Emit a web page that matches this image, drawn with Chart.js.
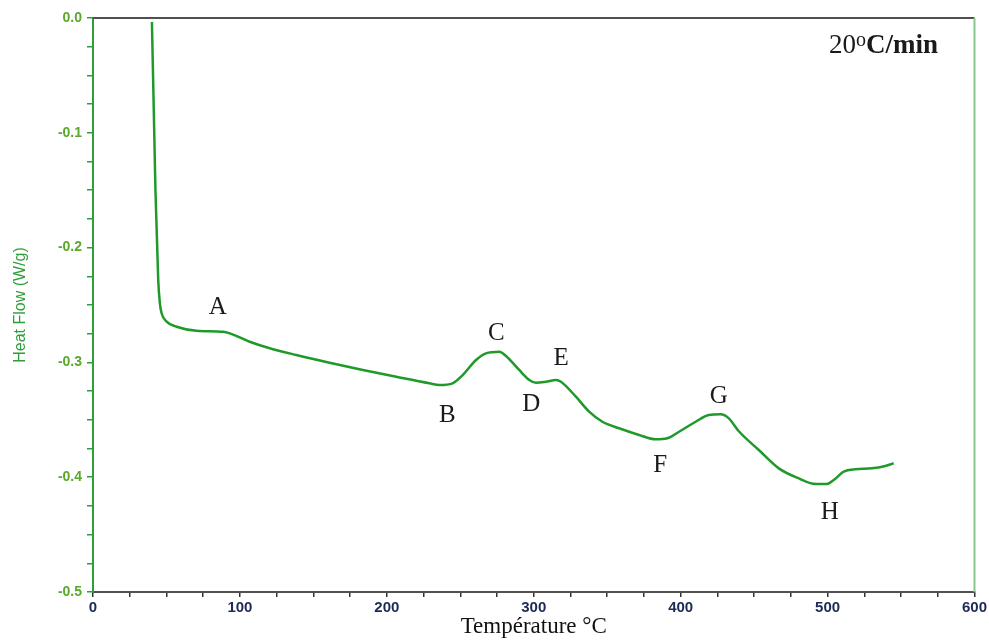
<!DOCTYPE html>
<html>
<head>
<meta charset="utf-8">
<script src="https://cdn.jsdelivr.net/npm/chart.js@4/dist/chart.umd.min.js"></script>
<style>
html,body{margin:0;padding:0;background:#fff;}
#wrap{width:989px;height:641px;}
</style>
</head>
<body>
<div id="wrap"><canvas id="c" width="989" height="641"></canvas></div>
<script>
// Temperature (°C) and heat flow (W/g)
const temperature = [40.1, 41.7, 42.5, 44.4, 45.5, 46.7, 50.1, 56.9, 70.5, 88.5, 93.1, 106.7, 120.3, 138.4, 161, 183.7, 206.4, 229, 235.8, 244.8, 251.6, 260.7, 267.5, 276.6, 281.1, 290.1, 297, 301.5, 308.3, 315.1, 318.5, 328.7, 337.7, 346.7, 358.1, 371.7, 383, 390.9, 398.9, 410.2, 419.2, 427.2, 432.8, 439.6, 453.2, 466.8, 480.4, 491.8, 499.6, 504.2, 511, 518.9, 530.2, 539.3, 545];
const heatFlow = [-0.0035, -0.1002, -0.1498, -0.2282, -0.2483, -0.2572, -0.2645, -0.2689, -0.2724, -0.2733, -0.2747, -0.282, -0.2877, -0.2936, -0.3003, -0.3066, -0.3125, -0.3182, -0.3197, -0.3182, -0.311, -0.2979, -0.2921, -0.2907, -0.2944, -0.3066, -0.3153, -0.3177, -0.3168, -0.3153, -0.3168, -0.3299, -0.3429, -0.3517, -0.3574, -0.3632, -0.367, -0.3661, -0.3604, -0.3517, -0.3458, -0.3452, -0.3487, -0.36, -0.3763, -0.3923, -0.401, -0.4059, -0.4059, -0.4024, -0.3952, -0.3931, -0.3923, -0.3902, -0.3879];
// Point labels
const pointLabels = ['A', 'B', 'C', 'D', 'E', 'F', 'G', 'H'];
const labelT = [84.9, 241.2, 274.5, 298.3, 318.7, 386, 426, 501.5];
const labelHF = [-0.2518, -0.3458, -0.2744, -0.337, -0.2962, -0.3894, -0.330, -0.4303];
// Axis settings
const xMin = 0, xMax = 600, xStep = 25;
const yMin = -0.5, yMax = 0.0, yStep = 0.025;
const rateText = ['20', 'o', 'C/min'];
const rateT = 538, rateHF = -0.0245;

const points = temperature.map((t, i) => ({x: t, y: heatFlow[i]}));

const decor = {
  id: 'decor',
  afterDraw(chart) {
    const {ctx, chartArea: a, scales: {x, y}} = chart;
    ctx.save();
    // top border
    ctx.strokeStyle = '#505050';
    ctx.lineWidth = 2;
    ctx.beginPath(); ctx.moveTo(a.left, a.top); ctx.lineTo(a.right, a.top); ctx.stroke();
    // right border
    ctx.strokeStyle = '#86c986';
    ctx.lineWidth = 2;
    ctx.beginPath(); ctx.moveTo(a.right, a.top); ctx.lineTo(a.right, a.bottom); ctx.stroke();
    // point labels
    ctx.fillStyle = '#1a1a1a';
    ctx.font = '25px "Liberation Serif", "Times New Roman", serif';
    ctx.textAlign = 'center';
    ctx.textBaseline = 'middle';
    pointLabels.forEach((l, i) => {
      ctx.fillText(l, x.getPixelForValue(labelT[i]), y.getPixelForValue(labelHF[i]));
    });
    // heating rate
    const cx = x.getPixelForValue(rateT), cy = y.getPixelForValue(rateHF);
    ctx.textAlign = 'left';
    ctx.textBaseline = 'middle';
    const f1 = '27px "Liberation Serif", serif';
    const f2 = '20px "Liberation Serif", serif';
    const f3 = 'bold 27px "Liberation Serif", serif';
    ctx.font = f1; const w1 = ctx.measureText(rateText[0]).width;
    ctx.font = f2; const w2 = ctx.measureText(rateText[1]).width;
    ctx.font = f3; const w3 = ctx.measureText(rateText[2]).width;
    let sx = cx - (w1 + w2 + w3) / 2;
    ctx.font = f1; ctx.fillText(rateText[0], sx, cy);
    sx += w1;
    ctx.font = f2; ctx.fillText(rateText[1], sx, cy - 5);
    sx += w2;
    ctx.font = f3; ctx.fillText(rateText[2], sx, cy);
    ctx.restore();
  }
};

new Chart(document.getElementById('c'), {
  type: 'scatter',
  data: {
    datasets: [{
      data: points,
      showLine: true,
      borderColor: '#1f9a2a',
      borderWidth: 2.5,
      pointRadius: 0,
      cubicInterpolationMode: 'monotone',
      fill: false
    }]
  },
  options: {
    responsive: false,
    animation: false,
    layout: {padding: {left: 0, right: 13, top: 18, bottom: 0}},
    plugins: {legend: {display: false}, tooltip: {enabled: false}},
    scales: {
      x: {
        type: 'linear', min: xMin, max: xMax,
        afterFit(s) { s.height = 49; },
        ticks: {
          stepSize: xStep, autoSkip: false, maxRotation: 0, padding: 2,
          color: '#1c2a55',
          font: {family: '"Liberation Sans", Arial, sans-serif', size: 15, weight: 'bold'},
          callback: v => (Math.abs(v % 100) < 1e-6 ? String(v) : '')
        },
        grid: {display: true, drawOnChartArea: false, drawTicks: true, tickLength: 5, color: '#333', lineWidth: 1.5},
        border: {display: true, color: '#505050', width: 2},
        title: {display: true, text: 'Température °C', color: '#111',
          font: {family: '"Liberation Serif", "Times New Roman", serif', size: 23}, padding: {top: 0, bottom: 0}}
      },
      y: {
        type: 'linear', min: yMin, max: yMax,
        afterFit(s) { s.width = 93; },
        ticks: {
          stepSize: yStep, autoSkip: false, padding: 5,
          color: '#5aa82c',
          font: {family: '"Liberation Sans", Arial, sans-serif', size: 14, weight: 'bold'},
          callback: v => (Math.abs(v * 10 - Math.round(v * 10)) < 1e-6 ? (Math.round(v * 10) / 10).toFixed(1) : '')
        },
        grid: {display: true, drawOnChartArea: false, drawTicks: true, tickLength: 6, color: '#2e9e3a', lineWidth: 1.5},
        border: {display: true, color: '#2e9e3a', width: 2},
        title: {display: true, text: 'Heat Flow (W/g)', color: '#2e9e3a',
          font: {family: '"Liberation Sans", Arial, sans-serif', size: 16}, padding: {top: 11, bottom: 0}}
      }
    }
  },
  plugins: [decor]
});
</script>
</body>
</html>
